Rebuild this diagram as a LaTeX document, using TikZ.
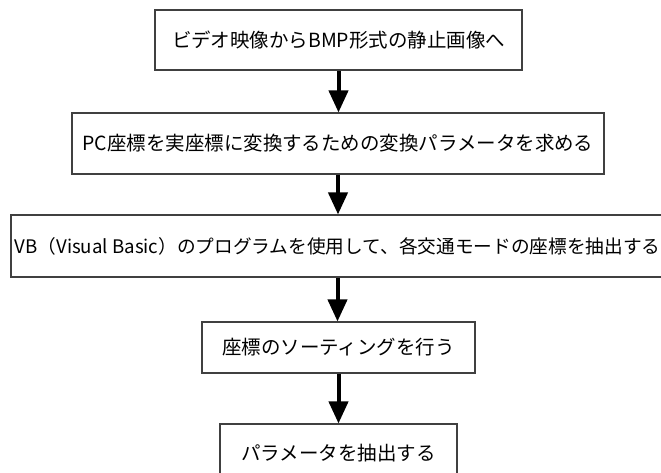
\documentclass[tikz,border=0pt]{standalone}
\usepackage{fontspec}
\setmainfont{Noto Sans CJK JP}
\usetikzlibrary{arrows.meta}
\begin{document}
\begin{tikzpicture}[x=0.75pt,y=-0.75pt,
  box/.style={draw=black!75,line width=0.8pt,fill=white,inner sep=0pt,align=center,font=\fontsize{14.6}{16}\selectfont},
  flow/.style={line width=3pt,-{Triangle[width=14.25pt,length=16.5pt]}}]
\useasboundingbox (0,0) rectangle (661,473);
\node[box,minimum width=275.25pt,minimum height=45pt] (b1) at (338.5,40) {ビデオ映像からBMP形式の静止画像へ};
\node[box,minimum width=399pt,minimum height=45.75pt] (b2) at (338,143.5) {PC座標を実座標に変換するための変換パラメータを求める};
\node[box,minimum width=489.75pt,minimum height=46.5pt,font=\fontsize{14}{16}\selectfont] (b3) at (337.5,246) {VB（Visual Basic）のプログラムを使用して、各交通モードの座標を抽出する};
\node[box,minimum width=204.75pt,minimum height=38.25pt] (b4) at (338.5,347.5) {座標のソーティングを行う};
\node[box,minimum width=177.75pt,minimum height=43.5pt] (b5) at (338.5,453) {パラメータを抽出する};
\draw[flow] (b1.south) -- (b1.south |- b2.north);
\draw[flow] (b2.south) -- (b2.south |- b3.north);
\draw[flow] (b3.south) -- (b3.south |- b4.north);
\draw[flow] (b4.south) -- (b4.south |- b5.north);
\end{tikzpicture}
\end{document}
